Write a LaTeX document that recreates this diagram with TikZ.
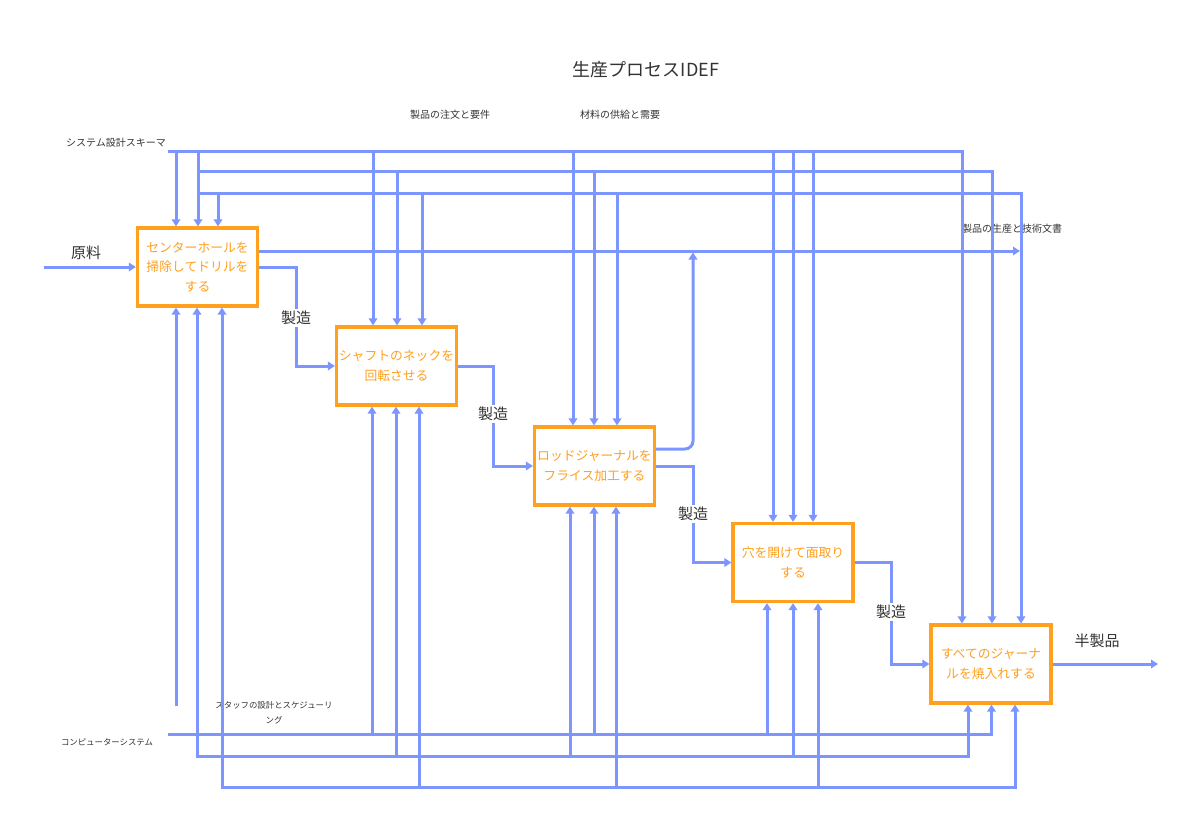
\documentclass[tikz,border=0pt]{standalone}
\usepackage{fontspec}
\setmainfont{Noto Sans CJK JP}
\usetikzlibrary{arrows.meta}
\definecolor{lineblue}{RGB}{125,150,255}
\definecolor{boxorange}{RGB}{255,160,30}
\definecolor{txtgray}{RGB}{51,51,51}
\begin{document}
\begin{tikzpicture}[x=1pt,y=-1pt,
  flow/.style={draw=lineblue, line width=3pt},
  arr/.style={flow, -{Triangle[length=7pt,width=8.5pt]}},
  arrs/.style={flow, {Triangle[length=7pt,width=8.5pt]}-{Triangle[length=7pt,width=8.5pt]}},
  procbox/.style={draw=boxorange, line width=3.2pt, fill=white, minimum width=120pt, minimum height=78pt,
    align=center, text=boxorange, font=\fontsize{12.8}{19.5}\selectfont, inner sep=1pt},
  lbl/.style={text=txtgray, font=\fontsize{15}{18}\selectfont, inner sep=1pt},
  small/.style={text=txtgray, font=\fontsize{10}{15}\selectfont, align=center, inner sep=0pt},
  mfg/.style={lbl, fill=white, inner sep=2pt}]
\useasboundingbox (0,0) rectangle (1203,832);

% title
\node[text=txtgray, font=\fontsize{18}{22}\selectfont] (title) at (646,70) {生産プロセスIDEF};

% process boxes
\node[procbox] (b1) at (197.5,267) {センターホールを\\掃除してドリルを\\する};
\node[procbox] (b2) at (396.5,366) {シャフトのネックを\\回転させる};
\node[procbox] (b3) at (594.5,466) {ロッドジャーナルを\\フライス加工する};
\node[procbox] (b4) at (793,562.5) {穴を開けて面取り\\する};
\node[procbox] (b5) at (991,664) {すべてのジャーナ\\ルを焼入れする};

% labels
\node[small] (lsys) at (116,143) {システム設計スキーマ};
\node[small] (lord) at (450,115) {製品の注文と要件};
\node[small] (lmat) at (620,115) {材料の供給と需要};
\node[small] (ldoc) at (1012,229) {製品の生産と技術文書};
\node[small, font=\fontsize{8.4}{15}\selectfont] (lcomp) at (107,742) {コンピューターシステム};
\node[small, font=\fontsize{8.4}{15}\selectfont] (lstaff) at (274,713) {スタッフの設計とスケジューリ\\ング};
\node[lbl] (lraw) at (86,253) {原料};
\node[lbl] (lsemi) at (1097,641) {半製品};

% control lines (top)
\draw[arr] (168,152) -- (962,152) -- (962,0 |- b5.north);
\draw[arr] (198,172) -- (992,172) -- (992,0 |- b5.north);
\draw[arr] (198,194) -- (1021,194) -- (1021,0 |- b5.north);
\foreach \x/\y/\b in {176/152/b1, 198/152/b1, 218/194/b1,
                      373/152/b2, 397/172/b2, 422/194/b2,
                      573/152/b3, 594/172/b3, 617/194/b3,
                      773/152/b4, 793/152/b4, 813/152/b4}
  \draw[arr] (\x,\y) -- (\x,0 |- \b.north);

% mechanism lines (bottom)
\draw[arr] (176,706) -- (176,0 |- b1.south);
\draw[arr] (168,734) -| (991.5,0 |- b5.south);
\draw[arrs] (197,0 |- b1.south) -- (197,756) -| (968,0 |- b5.south);
\draw[arrs] (222,0 |- b1.south) -- (222,787) -| (1015,0 |- b5.south);
\foreach \x/\y/\b in {372/734/b2, 396/756/b2, 419/787/b2,
                      570/756/b3, 594/734/b3, 616/787/b3,
                      767/734/b4, 793/756/b4, 818/787/b4}
  \draw[arr] (\x,\y) -- (\x,0 |- \b.south);

% outputs
\draw[arr] (b1.east |- 0,251) -- (1020,251);
\draw[arr, rounded corners=8pt] (b3.east |- 0,449) -| (693,252.5);

% main flow
\coordinate (m1) at (296,318);
\coordinate (m2) at (493,414);
\coordinate (m3) at (693,514);
\coordinate (m4) at (891,612);
\draw[arr] (44,267) -- (b1.west);
\draw[arr] (b1.east) -| (m1) |- (b2.west);
\draw[arr] (b2.east) -| (m2) |- (b3.west);
\draw[arr] (b3.east) -| (m3) |- (b4.west);
\draw[arr] (b4.east) -| (m4) |- (b5.west);
\draw[arr] (b5.east) -- (1158,664);
\node[mfg] at (m1) {製造};
\node[mfg] at (m2) {製造};
\node[mfg] at (m3) {製造};
\node[mfg] at (m4) {製造};
\end{tikzpicture}
\end{document}
